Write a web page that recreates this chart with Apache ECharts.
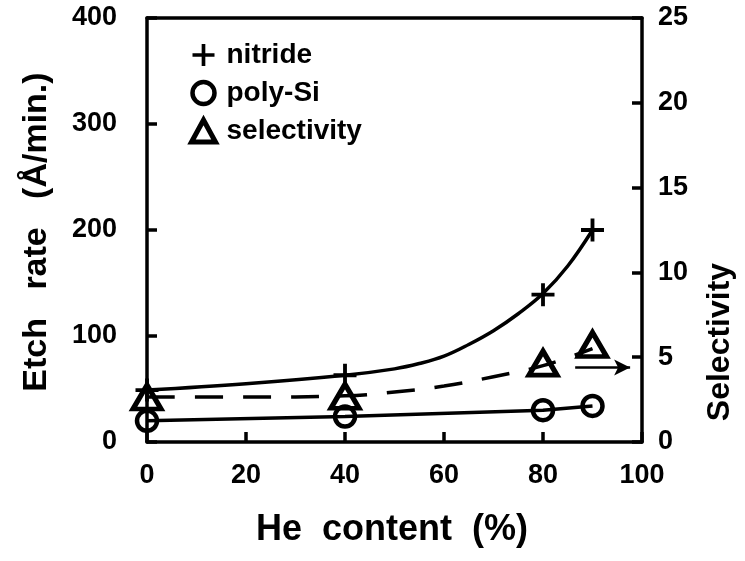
<!DOCTYPE html>
<html>
<head>
<meta charset="utf-8">
<script src="https://cdn.jsdelivr.net/npm/echarts@6/dist/echarts.min.js"></script>
<style>
  html, body { margin: 0; padding: 0; background: #fff; }
  #chart { width: 745px; height: 561px; }
</style>
</head>
<body>
<div id="chart"></div>
<script>
// measured points (He content %)
const heContent = [0, 40, 80, 90]
const nitride = [49, 63, 139, 200]
const polySi = [20, 24, 30, 34]
const selectivity = [2.65, 2.7, 4.65, 5.75]

// fitted curves as drawn in the figure
const nitrideCurveX = [0, 20, 40, 50, 55, 60, 65, 70, 75, 80, 85, 90]
const nitrideCurve = [49, 55, 63, 69, 74, 81, 92, 105, 121, 140, 166, 200]
const selCurveX = [0, 20, 40, 50, 60, 70, 80, 90]
const selCurve = [2.65, 2.65, 2.72, 2.95, 3.3, 3.85, 4.5, 5.5]

const xTicks = [0, 20, 40, 60, 80, 100]
const leftTicks = [0, 100, 200, 300, 400]
const rightTicks = [0, 5, 10, 15, 20, 25]

const FONT = 'Liberation Sans'
const pair = (xs, ys) => xs.map((x, i) => [x, ys[i]])
const plusPath = 'path://M0,10H24V14H0ZM10,0H14V24H10Z'

const chart = echarts.init(document.getElementById('chart'))

// fresh objects for every axis
const axisLine = () => ({ show: true, onZero: false, lineStyle: { color: '#000', width: 3.5 } })
const axisTick = () => ({ show: true, inside: true, length: 10, lineStyle: { color: '#000', width: 3.5 } })
const axisLabel = (margin) => ({ color: '#000', fontFamily: FONT, fontWeight: 'bold', fontSize: 27, margin })

// axis titles as plain text (axis names were hiding the ticks)
const titleText = (text, x, y, size, rotation) => ({
  type: 'text', x, y, rotation,
  style: { text, fill: '#000', font: 'bold ' + size + 'px "Liberation Sans"', align: 'center', verticalAlign: 'middle' }
})

const option = {
  animation: false,
  grid: { left: 147, right: 103, top: 18, bottom: 119 },
  legend: {
    orient: 'vertical',
    left: 184, top: 36,
    itemWidth: 24, itemHeight: 22, itemGap: 10,
    textStyle: { color: '#000', fontFamily: FONT, fontWeight: 'bold', fontSize: 28, padding: [0, 0, 0, 6] },
    data: [
      { name: 'nitride', icon: plusPath },
      { name: 'poly-Si', icon: 'circle', itemStyle: { color: 'rgba(0,0,0,0)', borderColor: '#000', borderWidth: 4.5 } },
      { name: 'selectivity', icon: 'triangle', itemStyle: { color: 'rgba(0,0,0,0)', borderColor: '#000', borderWidth: 5 } }
    ],
    selectedMode: false
  },
  xAxis: [
    {
      type: 'value', min: xTicks[0], max: xTicks[xTicks.length - 1], interval: 20,
      axisLine: axisLine(), axisTick: axisTick(), splitLine: { show: false },
      axisLabel: axisLabel(20)
    },
    {
      // top frame line
      type: 'value', position: 'top', min: 0, max: 100,
      axisLine: axisLine(),
      axisTick: { show: false }, axisLabel: { show: false }, splitLine: { show: false }
    }
  ],
  yAxis: [
    {
      type: 'value', min: leftTicks[0], max: leftTicks[leftTicks.length - 1], interval: 100,
      axisLine: axisLine(), axisTick: axisTick(), splitLine: { show: false },
      axisLabel: axisLabel(30)
    },
    {
      type: 'value', position: 'right', min: rightTicks[0], max: rightTicks[rightTicks.length - 1], interval: 5,
      axisLine: axisLine(), axisTick: axisTick(), splitLine: { show: false },
      axisLabel: axisLabel(16)
    }
  ],
  graphic: [
    titleText('He  content  (%)', 392, 530, 36, 0),
    titleText('Etch   rate   (Å/min.)', 37, 232, 34, Math.PI / 2),
    titleText('Selectivity', 720, 342, 32, Math.PI / 2)
  ],
  series: [
    {
      name: 'nitride fit', type: 'line', smooth: 0.4, showSymbol: false, silent: true,
      data: pair(nitrideCurveX, nitrideCurve),
      lineStyle: { color: '#000', width: 3.5 }
    },
    {
      name: 'poly-Si line', type: 'line', showSymbol: false, silent: true,
      data: pair(heContent, polySi),
      lineStyle: { color: '#000', width: 3.5 }
    },
    {
      name: 'selectivity fit', type: 'line', yAxisIndex: 1, smooth: 0.4, showSymbol: false, silent: true,
      data: pair(selCurveX, selCurve),
      lineStyle: { color: '#000', width: 3.5, type: [28, 20] },
      markLine: {
        silent: true, symbol: ['none', 'arrow'], symbolSize: [12, 16],
        label: { show: false },
        lineStyle: { color: '#000', width: 2.5, type: 'solid' },
        data: [[{ coord: [86.5, 4.4] }, { coord: [97.6, 4.4] }]]
      }
    },
    {
      name: 'nitride', type: 'scatter', symbol: plusPath, symbolSize: 23,
      data: pair(heContent, nitride),
      itemStyle: { color: '#000', opacity: 1 }
    },
    {
      name: 'poly-Si', type: 'scatter', symbol: 'circle', symbolSize: 20,
      data: pair(heContent, polySi),
      itemStyle: { color: 'rgba(0,0,0,0)', borderColor: '#000', borderWidth: 4.5, opacity: 1 }
    },
    {
      name: 'selectivity', type: 'scatter', yAxisIndex: 1, symbol: 'triangle', symbolSize: [28, 24],
      data: pair(heContent, selectivity),
      itemStyle: { color: 'rgba(0,0,0,0)', borderColor: '#000', borderWidth: 5, opacity: 1 }
    }
  ]
}

chart.setOption(option)
</script>
</body>
</html>
